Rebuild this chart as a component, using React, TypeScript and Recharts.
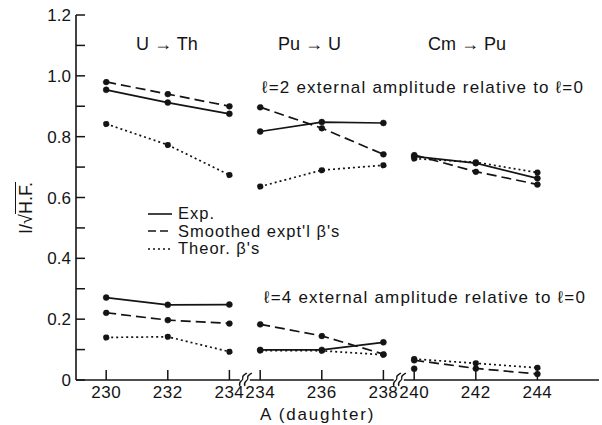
import { LineChart, Line, XAxis, YAxis, Legend, ReferenceDot } from 'recharts';

// three decay groups, each drawn on its own stretch of the broken x axis
const groups = ['U \u2192 Th', 'Pu \u2192 U', 'Cm \u2192 Pu'];
const daughters = [
  [230, 232, 234],
  [234, 236, 238],
  [240, 242, 244],
];
const groupShift = [0, 1, 0]; // where each group sits after the axis breaks
const breakAt = [234.5, 239.5];

// l = 2 external amplitude relative to l = 0
const exp2 = [
  [0.954, 0.912, 0.875],
  [0.817, 0.848, 0.845],
  [0.735, 0.713, 0.663],
];
const smooth2 = [
  [0.98, 0.94, 0.9],
  [0.897, 0.828, 0.742],
  [0.74, 0.685, 0.643],
];
const theor2 = [
  [0.842, 0.773, 0.674],
  [0.636, 0.69, 0.706],
  [0.728, 0.716, 0.682],
];

// l = 4 external amplitude relative to l = 0
const exp4 = [
  [0.271, 0.247, 0.248],
  [0.099, 0.099, 0.124],
  [0.037, null, null],
];
const smooth4 = [
  [0.221, 0.197, 0.186],
  [0.183, 0.145, 0.085],
  [0.065, 0.038, 0.02],
];
const theor4 = [
  [0.14, 0.142, 0.093],
  [0.097, 0.096, 0.083],
  [0.069, 0.055, 0.04],
];

const yTicks = [0, 0.1, 0.2, 0.3, 0.4, 0.5, 0.6, 0.7, 0.8, 0.9, 1.0, 1.1, 1.2];
const yTickLabels = ['0', '', '0.2', '', '0.4', '', '0.6', '', '0.8', '', '1.0', '', '1.2'];

const legendNames = ['Exp.', "Smoothed expt'l \u03B2's", 'Theor. \u03B2\'s'];
const l2Note = '\u2113=2 external amplitude relative to \u2113=0';
const l4Note = '\u2113=4 external amplitude relative to \u2113=0';

const INK = '#141414';
const FONT = '"Liberation Sans", Arial, sans-serif';

const series = [
  { key: 'exp2', vals: exp2, dash: undefined },
  { key: 'smooth2', vals: smooth2, dash: '10 5' },
  { key: 'theor2', vals: theor2, dash: '2 3' },
  { key: 'exp4', vals: exp4, dash: undefined },
  { key: 'smooth4', vals: smooth4, dash: '10 5' },
  { key: 'theor4', vals: theor4, dash: '2 3' },
];

const segmentData = daughters.map((row, g) =>
  row.map((a, i) => {
    const point: Record<string, number | null> = { x: a + groupShift[g] };
    series.forEach((s) => {
      point[s.key] = s.vals[g][i];
    });
    return point;
  })
);

const xTicks = daughters.flatMap((row, g) => row.map((a) => a + groupShift[g]));
const xTickLabels = daughters.flat();

function XTick({ x, y, payload }: any) {
  const idx = xTicks.indexOf(payload.value);
  return (
    <g>
      <line x1={x} y1={y} x2={x} y2={y - 10} stroke={INK} strokeWidth={1.5} />
      <text x={x} y={y + 18} textAnchor="middle" fontSize={17} fill={INK} fontFamily={FONT} letterSpacing={0.5}>
        {xTickLabels[idx]}
      </text>
    </g>
  );
}

function YTick({ x, y, payload }: any) {
  const idx = yTicks.findIndex((t) => Math.abs(t - payload.value) < 1e-6);
  return (
    <g>
      <line x1={x} y1={y} x2={x + 9} y2={y} stroke={INK} strokeWidth={1.5} />
      <text x={x - 5} y={y + 6} textAnchor="end" fontSize={17} fill={INK} fontFamily={FONT}>
        {yTickLabels[idx]}
      </text>
    </g>
  );
}

function AxisBreak({ cx, cy }: any) {
  const s = (dx: number) =>
    `M${cx + dx - 3},${cy + 6} C${cx + dx - 5},${cy + 1} ${cx + dx + 1},${cy + 1} ${cx + dx},${cy - 2} C${cx + dx - 1},${cy - 5} ${cx + dx + 3},${cy - 6} ${cx + dx + 4},${cy - 7}`;
  return (
    <g>
      <rect x={cx - 5} y={cy - 2} width={10} height={4} fill="#fff" />
      <path d={s(-2)} stroke={INK} strokeWidth={1.3} fill="none" />
      <path d={s(3)} stroke={INK} strokeWidth={1.3} fill="none" />
    </g>
  );
}

function LegendBox() {
  const dashes = [undefined, '8 4', '2 3'];
  return (
    <div style={{ fontFamily: FONT, fontSize: 16.5, color: INK, lineHeight: '17.5px', letterSpacing: 1 }}>
      {legendNames.map((name, i) => (
        <div key={name} style={{ display: 'flex', alignItems: 'center' }}>
          <svg width={26} height={10} style={{ marginRight: 5 }}>
            <line x1={1} y1={5} x2={25} y2={5} stroke={INK} strokeWidth={1.6} strokeDasharray={dashes[i]} />
          </svg>
          <span>{name}</span>
        </div>
      ))}
    </div>
  );
}

const textStyle = {
  position: 'absolute' as const,
  fontFamily: FONT,
  fontSize: 17,
  color: INK,
  whiteSpace: 'nowrap' as const,
  lineHeight: '20px',
};

export default function App() {
  return (
    <div style={{ position: 'absolute', left: 0, top: 0, width: 602, height: 425, background: '#fff' }}>
      <LineChart width={602} height={425} margin={{ top: 15, right: 3, left: 0, bottom: 0 }}>
        <XAxis
          type="number"
          dataKey="x"
          domain={[229.02, 246]}
          ticks={xTicks}
          allowDataOverflow
          height={45}
          tickSize={0}
          tickMargin={0}
          tickLine={false}
          tick={<XTick />}
          axisLine={{ stroke: INK, strokeWidth: 1.6 }}
          interval={0}
        />
        <YAxis
          type="number"
          domain={[0, 1.2]}
          ticks={yTicks}
          width={76}
          tickSize={0}
          tickMargin={0}
          tickLine={false}
          tick={<YTick />}
          axisLine={{ stroke: INK, strokeWidth: 1.6 }}
          interval={0}
        />
        {segmentData.map((rows, g) =>
          series.map((s) => (
            <Line
              key={`${s.key}-${g}`}
              data={rows}
              dataKey={s.key}
              stroke={INK}
              strokeWidth={1.7}
              strokeDasharray={s.dash}
              dot={{ r: 3, fill: INK, stroke: INK, strokeWidth: 0.5 }}
              activeDot={false}
              legendType="none"
              isAnimationActive={false}
            />
          ))
        )}
        {breakAt.map((b) => (
          <ReferenceDot key={b} x={b} y={0} ifOverflow="visible" shape={<AxisBreak />} />
        ))}
        <Legend
          layout="vertical"
          align="center"
          verticalAlign="middle"
          content={<LegendBox />}
          wrapperStyle={{ left: 147, top: 205, width: 260 }}
        />
      </LineChart>

      {groups.map((name, i) => (
        <div key={name} style={{ ...textStyle, left: [136, 278, 428][i], top: 34, fontSize: 18 }}>
          {name}
        </div>
      ))}
      <div style={{ ...textStyle, left: 262, top: 78, letterSpacing: 1.2 }}>{l2Note}</div>
      <div style={{ ...textStyle, left: 264, top: 288, letterSpacing: 1.2 }}>{l4Note}</div>
      <div style={{ ...textStyle, left: 260, top: 405, letterSpacing: 1.8 }}>A (daughter)</div>
      <div
        style={{
          ...textStyle,
          left: 26,
          top: 208,
          fontSize: 18,
          transform: 'translate(-50%, -50%) rotate(-90deg)',
        }}
      >
        I/{'\u221A'}
        <span style={{ borderTop: `1.5px solid ${INK}`, paddingTop: 0 }}>H.F.</span>
      </div>
    </div>
  );
}
